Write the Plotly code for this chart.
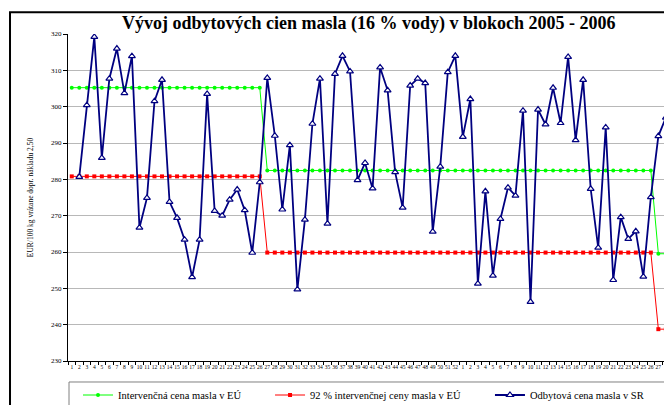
import plotly.graph_objects as go

# Week labels: 2005 weeks 1-52, then 2006 weeks 1-30
week_labels = [
    "1", "2", "3", "4", "5", "6", "7", "8", "9", "10", "11", "12", "13",
    "14", "15", "16", "17", "18", "19", "20", "21", "22", "23", "24", "25", "26",
    "27", "28", "29", "30", "31", "32", "33", "34", "35", "36", "37", "38", "39",
    "40", "41", "42", "43", "44", "45", "46", "47", "48", "49", "50", "51", "52",
    "1", "2", "3", "4", "5", "6", "7", "8", "9", "10", "11", "12", "13",
    "14", "15", "16", "17", "18", "19", "20", "21", "22", "23", "24", "25", "26",
    "27", "28", "29", "30",
]

# Intervention price of butter in EU (EUR/100 kg)
interv_price = (
    [305.23] * 26 + [282.44] * 52 + [259.52] * 4
)
# 92 % of intervention price
interv_92 = (
    [280.81] * 26 + [259.84] * 52 + [238.76] * 4
)
# Selling price of butter in SR
sr_price = [
    None, 280.7, 300.4, 319.2, 285.9, 307.7, 316.0, 303.7, 313.9, 266.7,
    274.9, 301.5, 307.4, 273.8, 269.4, 263.4, 253.1, 263.4, 303.5, 271.3,
    270.0, 274.4, 277.2, 271.5, 259.8, 279.2, 307.9, 292.0, 271.7, 289.4,
    249.7, 268.9, 295.3, 307.7, 267.8, 309.0, 314.0, 309.7, 279.8, 284.5,
    277.5, 310.8, 304.5, 282.0, 272.2, 305.8, 307.7, 306.5, 265.6, 283.5,
    309.5, 314.0, 291.7, 302.1, 251.3, 276.7, 253.5, 269.1, 277.7, 275.5,
    298.9, 246.3, 299.2, 295.1, 305.2, 295.5, 313.7, 290.8, 307.4, 277.4,
    261.2, 294.3, 252.3, 269.6, 263.6, 265.7, 253.2, 275.1, 291.9, 297.0,
    300.0, 298.0,
]

names = [
    "Intervenčná cena masla v EÚ",
    "92 % intervenčnej ceny masla v EÚ",
    "Odbytová cena masla v SR",
]

title_text = "Vývoj odbytových cien masla (16 % vody) v blokoch 2005 - 2006"
y_title = "EUR/100 kg vrátane dopr. nákladu 2,50"

pos = list(range(1, len(week_labels) + 1))
SERIF = "Liberation Serif, Times New Roman, serif"

FIG_W, FIG_H = 664, 405

fig = go.Figure()
fig.add_trace(go.Scatter(
    x=pos, y=interv_price, name=names[0], mode="lines+markers",
    line=dict(color="#00FF00", width=1),
    marker=dict(symbol="circle", size=4, color="#00FF00"),
    legend="legend",
))
fig.add_trace(go.Scatter(
    x=pos, y=interv_92, name=names[1], mode="lines+markers",
    line=dict(color="#FF0000", width=1),
    marker=dict(symbol="square", size=4, color="#FF0000"),
    legend="legend2",
))
fig.add_trace(go.Scatter(
    x=pos, y=sr_price, name=names[2], mode="lines+markers",
    line=dict(color="#000080", width=1.8),
    marker=dict(symbol="triangle-up", size=6, color="white",
                line=dict(color="#000080", width=1.2)),
    legend="legend3",
))

leg_common = dict(
    orientation="h", yanchor="middle", y=-0.104, xanchor="left",
    bgcolor="rgba(0,0,0,0)", borderwidth=0,
    font=dict(family=SERIF, size=10.5, color="black"),
)

fig.update_layout(
    width=FIG_W, height=FIG_H,
    margin=dict(l=68, r=0, t=34, b=44, autoexpand=False),
    paper_bgcolor="white", plot_bgcolor="white",
    title=dict(
        text=title_text, x=0.5047, xanchor="center", xref="paper",
        y=1 - 22.5 / FIG_H, yanchor="middle", yref="container",
        font=dict(family=SERIF, size=18, color="black", weight="bold"),
    ),
    legend=dict(x=0.0168, **leg_common),
    legend2=dict(x=0.339, **leg_common),
    legend3=dict(x=0.708, **leg_common),
    showlegend=True,
)

fig.update_xaxes(
    range=[0.5, 79.75],
    tickmode="array", tickvals=pos, ticktext=week_labels, ticks="",
    tickangle=0, tickfont=dict(family=SERIF, size=5.5, color="black"),
    showline=True, linecolor="black", linewidth=1,
    showgrid=False, zeroline=False,
    minor=dict(tickmode="linear", tick0=0.5, dtick=1, ticks="outside",
               ticklen=3, tickcolor="black", tickwidth=1, showgrid=False),
)
fig.update_yaxes(
    range=[230, 320], dtick=10, tick0=230,
    ticks="outside", ticklen=4, tickcolor="black",
    tickfont=dict(family=SERIF, size=7, color="black"),
    showline=True, linecolor="black", linewidth=1,
    showgrid=True, gridcolor="#b8b8b8", gridwidth=1, zeroline=False,
    title=dict(text=y_title, standoff=16,
               font=dict(family=SERIF, size=7.5, color="black")),
)

# legend frame and outer chart frame (cropped on the right/bottom)
fig.add_shape(type="rect", xref="paper", yref="paper",
              x0=0.0017, x1=1.05, y0=-0.4, y1=-0.0642,
              line=dict(color="#808080", width=1), layer="below")
fig.add_shape(type="rect", xref="paper", yref="paper",
              x0=-0.0973, x1=1.05, y0=-0.6, y1=1.0663,
              line=dict(color="black", width=2), layer="below")

fig.write_html(
    "out.html",
    config={"staticPlot": True, "displayModeBar": False},
    post_script=(
        "document.documentElement.style.margin='0';"
        "document.documentElement.style.overflow='hidden';"
        "document.body.style.margin='0';"
        "document.body.style.overflow='hidden';"
    ),
)
